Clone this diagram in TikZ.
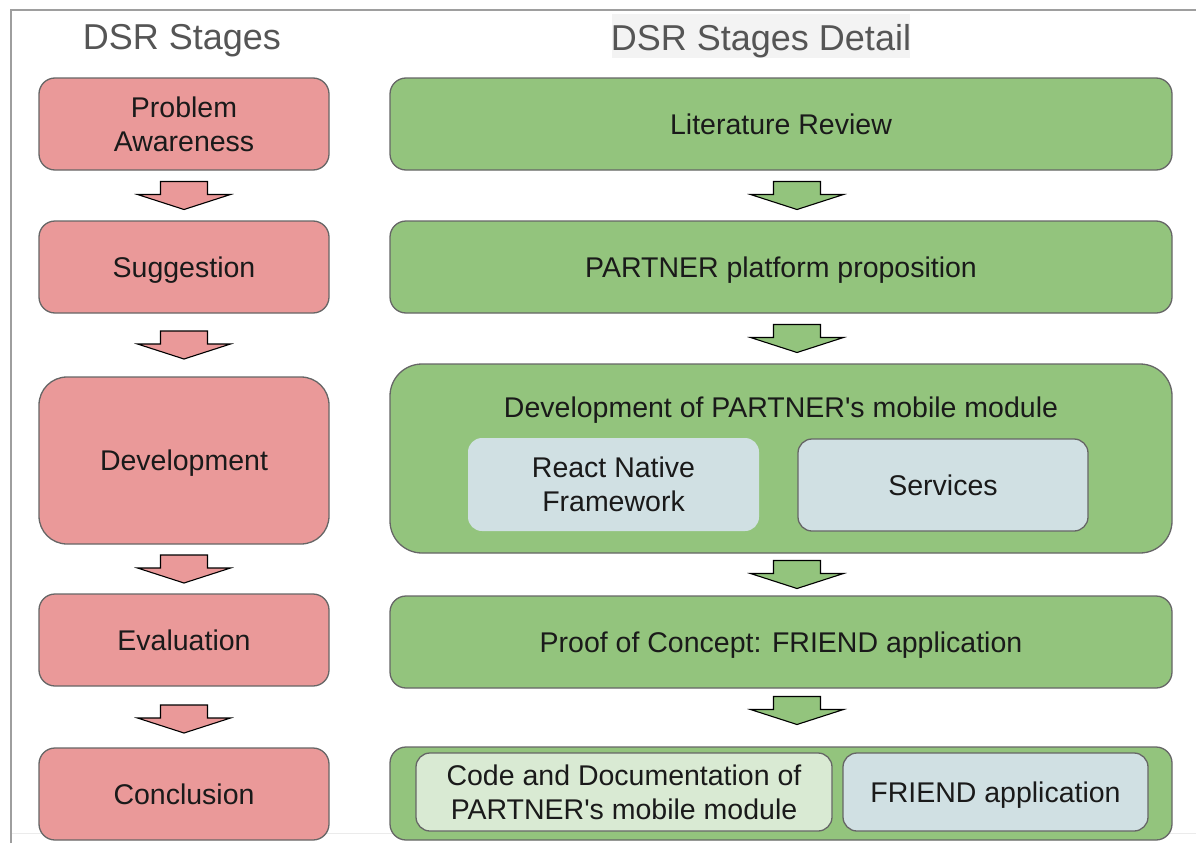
\documentclass[tikz,border=0pt]{standalone}
\usepackage{fontspec}
\setmainfont{Liberation Sans}
\usetikzlibrary{calc}
\definecolor{redfill}{HTML}{EA9999}
\definecolor{greenfill}{HTML}{93C47D}
\definecolor{bluefill}{HTML}{D0E0E3}
\definecolor{lightgreen}{HTML}{D9EAD3}
\definecolor{edgegray}{HTML}{666666}
\definecolor{titlegray}{HTML}{555555}
\definecolor{framegray}{HTML}{9E9E9E}
\definecolor{titlebg}{HTML}{F3F3F3}
\definecolor{textdark}{HTML}{1A1A1A}
\tikzset{
  boxbase/.style={rectangle, draw=edgegray, line width=1.3pt, text=textdark,
    align=center, inner sep=0pt, text depth=0pt, font=\fontsize{28.5}{34}\selectfont},
  redbox/.style={boxbase, fill=redfill, minimum width=290pt, rounded corners=16pt},
  greenbox/.style={boxbase, fill=greenfill, minimum width=782pt, rounded corners=16pt},
  innerbox/.style={boxbase, rounded corners=14pt},
  titletext/.style={text=titlegray, font=\fontsize{36}{40}\selectfont, inner sep=0pt, text depth=0pt},
  blockarr/.style={draw=black, line width=1.1pt, line join=miter},
  pics/barrow/.style={code={
    \draw[blockarr, fill=#1] (-23.5,-14) -- (23.5,-14) -- (23.5,-1) -- (46.5,-1)
      -- (0,14) -- (-46.5,-1) -- (-23.5,-1) -- cycle;}}
}
\begin{document}
\begin{tikzpicture}[x=1pt, y=-1pt]
\useasboundingbox (0,0) rectangle (1196,843);
% frame
\draw[color=black!8, line width=1pt] (11,833) -- (1196,833);
\draw[framegray, line width=1.5pt] (11,843) -- (11,10) -- (1196,10);
% titles
\fill[titlebg] (612,14) rectangle (910,58);
\node[titletext] (t1) at (182,37) {DSR Stages};
\node[titletext] (t2) at (761,37) {DSR Stages Detail};
% left column
\node[redbox, minimum height=92pt] (pa) at (184,124) {Problem\\Awareness};
\node[redbox, minimum height=92pt] (sug) at (184,267) {Suggestion};
\node[redbox, minimum height=167pt, rounded corners=28pt] (dev) at (184,460.5) {Development};
\node[redbox, minimum height=92pt] (eva) at (184,640) {Evaluation};
\node[redbox, minimum height=92pt] (con) at (184,794) {Conclusion};
% right column
\node[greenbox, minimum height=92pt] (lit) at (781,124) {Literature Review};
\node[greenbox, minimum height=92pt] (prop) at (781,267) {PARTNER platform proposition};
\node[greenbox, minimum height=189pt, rounded corners=32pt] (devd) at (781,458.5) {};
\node[boxbase, draw=none, fill=none] (devt) at (781,407) {Development of PARTNER\textquotesingle s mobile module};
\node[innerbox, draw=none, fill=bluefill, minimum width=291pt, minimum height=93pt] (rn) at (613.5,484.5) {React Native\\Framework};
\node[innerbox, fill=bluefill, minimum width=290pt, minimum height=92pt] (srv) at (943,485) {Services};
\node[greenbox, minimum height=92pt] (poc) at (781,642) {Proof of Concept: FRIEND application};
\node[greenbox, minimum height=93pt] (res) at (781,793.5) {};
\node[innerbox, fill=lightgreen, minimum width=416pt, minimum height=78pt] (code) at (624,792) {Code and Documentation of\\PARTNER\textquotesingle s mobile module};
\node[innerbox, fill=bluefill, minimum width=305pt, minimum height=78pt] (fr) at (995.5,792) {FRIEND application};
% block arrows, left
\pic at ($(pa.south)!.5!(sug.north)$) {barrow=redfill};
\pic at ($(sug.south)!.5!(dev.north)$) {barrow=redfill};
\pic at ($(dev.south)!.5!(eva.north)$) {barrow=redfill};
\pic at ($(eva.south)!.5!(con.north)+(0,2)$) {barrow=redfill};
% block arrows, right
\pic at ($(lit.south)!.5!(prop.north)+(16,0)$) {barrow=greenfill};
\pic at ($(prop.south)!.5!(devd.north)+(16,0)$) {barrow=greenfill};
\pic at ($(devd.south)!.5!(poc.north)+(16,0)$) {barrow=greenfill};
\pic at ($(poc.south)!.5!(res.north)+(16,-7)$) {barrow=greenfill};
\end{tikzpicture}
\end{document}
